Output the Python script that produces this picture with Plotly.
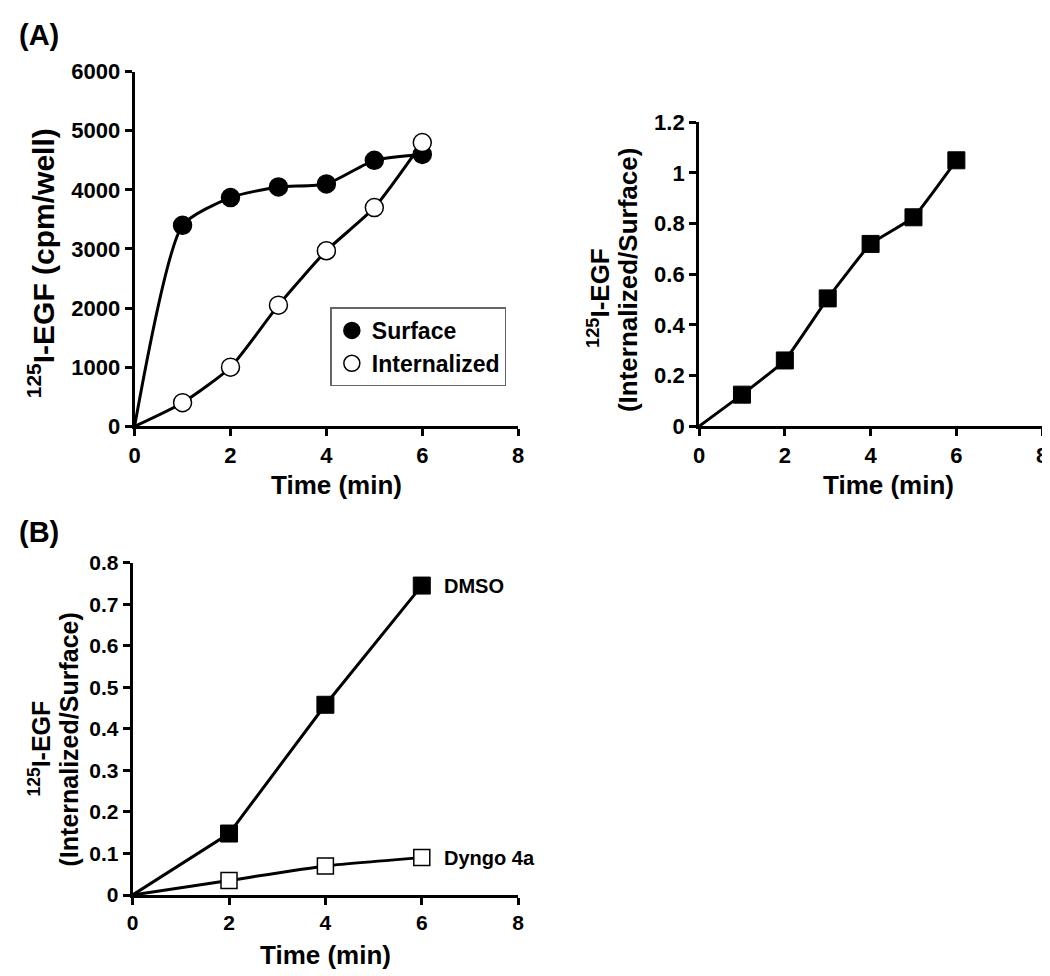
import plotly.graph_objects as go

# ---------------- data ----------------
time_a = [0, 1, 2, 3, 4, 5, 6]
surface = [0, 3400, 3870, 4050, 4100, 4500, 4600]
internalized = [0, 400, 1000, 2050, 2970, 3700, 4800]
ratio_a = [0, 0.125, 0.26, 0.505, 0.72, 0.825, 1.05]

time_b = [0, 2, 4, 6]
dmso = [0, 0.148, 0.458, 0.745]
dyngo = [0, 0.035, 0.07, 0.09]

x_ticks = [0, 2, 4, 6, 8]

FONT = "Liberation Sans, Arial, sans-serif"
BLACK = "#000000"

fig = go.Figure()

# Panel A left
fig.add_trace(go.Scatter(x=time_a, y=surface, mode="lines", line=dict(color=BLACK, width=3, shape="spline", smoothing=0.6),
                         showlegend=False, xaxis="x", yaxis="y", hoverinfo="skip"))
fig.add_trace(go.Scatter(x=time_a, y=internalized, mode="lines", line=dict(color=BLACK, width=3, shape="spline", smoothing=0.6),
                         showlegend=False, xaxis="x", yaxis="y", hoverinfo="skip"))
fig.add_trace(go.Scatter(x=time_a[1:], y=surface[1:], mode="markers", name="Surface",
                         marker=dict(symbol="circle", size=18, color=BLACK, line=dict(color=BLACK, width=1.5)),
                         xaxis="x", yaxis="y"))
fig.add_trace(go.Scatter(x=time_a[1:], y=internalized[1:], mode="markers", name="Internalized",
                         marker=dict(symbol="circle", size=18, color="white", line=dict(color=BLACK, width=1.5)),
                         xaxis="x", yaxis="y"))

# Panel A right
fig.add_trace(go.Scatter(x=time_a, y=ratio_a, mode="lines", line=dict(color=BLACK, width=3, shape="spline", smoothing=0.3),
                         showlegend=False, xaxis="x2", yaxis="y2", hoverinfo="skip"))
fig.add_trace(go.Scatter(x=time_a[1:], y=ratio_a[1:], mode="markers", showlegend=False,
                         marker=dict(symbol="square", size=17, color=BLACK, line=dict(color=BLACK, width=1)),
                         xaxis="x2", yaxis="y2"))

# Panel B
fig.add_trace(go.Scatter(x=time_b, y=dmso, mode="lines", line=dict(color=BLACK, width=3),
                         showlegend=False, xaxis="x3", yaxis="y3", hoverinfo="skip"))
fig.add_trace(go.Scatter(x=time_b, y=dyngo, mode="lines", line=dict(color=BLACK, width=3, shape="spline", smoothing=0.5),
                         showlegend=False, xaxis="x3", yaxis="y3", hoverinfo="skip"))
fig.add_trace(go.Scatter(x=time_b[1:], y=dmso[1:], mode="markers", showlegend=False,
                         marker=dict(symbol="square", size=17, color=BLACK, line=dict(color=BLACK, width=1)),
                         xaxis="x3", yaxis="y3"))
fig.add_trace(go.Scatter(x=time_b[1:], y=dyngo[1:], mode="markers", showlegend=False,
                         marker=dict(symbol="square", size=16, color="white", line=dict(color=BLACK, width=1.5)),
                         xaxis="x3", yaxis="y3"))

W, H = 1050, 976


def px_x(v):
    return v / W


def px_y(v):
    return 1 - v / H


def axis_style(size):
    return dict(showline=True, linecolor=BLACK, linewidth=3, ticks="outside", ticklen=7, tickwidth=3,
                tickcolor=BLACK, showgrid=False, zeroline=False,
                tickfont=dict(family=FONT, size=size, color=BLACK, weight="bold"))


fig.update_layout(
    width=W, height=H, margin=dict(l=0, r=0, t=0, b=0),
    paper_bgcolor="white", plot_bgcolor="white",
    font=dict(family=FONT, color=BLACK),
    xaxis=dict(domain=[px_x(122), px_x(510)], range=[0, 8], tickvals=x_ticks, anchor="y", **axis_style(22)),
    yaxis=dict(domain=[px_y(417), px_y(53)], range=[0, 6000], dtick=1000, anchor="x", **axis_style(22)),
    xaxis2=dict(domain=[px_x(693), px_x(1040)], range=[0, 8], tickvals=x_ticks, anchor="y2", **axis_style(22)),
    yaxis2=dict(domain=[px_y(417), px_y(105)], range=[0, 1.2], dtick=0.2, anchor="x2", **axis_style(22)),
    xaxis3=dict(domain=[px_x(120), px_x(510)], range=[0, 8], tickvals=x_ticks, anchor="y3", **axis_style(21)),
    yaxis3=dict(domain=[px_y(898), px_y(557)], range=[0, 0.8], dtick=0.1, anchor="x3", **axis_style(21)),
    legend=dict(x=px_x(320), y=px_y(295), xanchor="left", yanchor="top",
                bordercolor="#666666", borderwidth=1.5, bgcolor="white",
                font=dict(family=FONT, size=23, color=BLACK, weight="bold"),
                tracegroupgap=2),
    showlegend=True,
)

xt_font = dict(family=FONT, size=26, color=BLACK, weight="bold")
ann = [
    dict(text="(A)", x=px_x(3), y=px_y(15), xanchor="left", yanchor="middle", font=dict(family=FONT, size=29, color=BLACK, weight="bold")),
    dict(text="(B)", x=px_x(3), y=px_y(525), xanchor="left", yanchor="middle", font=dict(family=FONT, size=29, color=BLACK, weight="bold")),
    dict(text="Time (min)", x=px_x(326), y=px_y(477), xanchor="center", yanchor="middle", font=xt_font),
    dict(text="Time (min)", x=px_x(885), y=px_y(477), xanchor="center", yanchor="middle", font=xt_font),
    dict(text="Time (min)", x=px_x(315), y=px_y(960), xanchor="center", yanchor="middle", font=xt_font),
    dict(text="<sup>125</sup>I-EGF (cpm/well)", x=px_x(27), y=px_y(250), textangle=-90, xanchor="center", yanchor="middle",
         font=dict(family=FONT, size=30, color=BLACK, weight="bold")),
    dict(text="<sup>125</sup>I-EGF", x=px_x(592), y=px_y(285), textangle=-90, xanchor="center", yanchor="middle",
         font=dict(family=FONT, size=26, color=BLACK, weight="bold")),
    dict(text="(Internalized/Surface)", x=px_x(621), y=px_y(267), textangle=-90, xanchor="center", yanchor="middle",
         font=dict(family=FONT, size=26, color=BLACK, weight="bold")),
    dict(text="<sup>125</sup>I-EGF", x=px_x(26), y=px_y(748), textangle=-90, xanchor="center", yanchor="middle",
         font=dict(family=FONT, size=25, color=BLACK, weight="bold")),
    dict(text="(Internalized/Surface)", x=px_x(56), y=px_y(738), textangle=-90, xanchor="center", yanchor="middle",
         font=dict(family=FONT, size=25, color=BLACK, weight="bold")),
]
for a in ann:
    a.update(xref="paper", yref="paper", showarrow=False)
fig.update_layout(annotations=ann)

fig.add_annotation(text="DMSO", x=time_b[-1], y=dmso[-1], xref="x3", yref="y3", xanchor="left", yanchor="middle",
                   xshift=20, showarrow=False, font=dict(family=FONT, size=20, color=BLACK, weight="bold"))
fig.add_annotation(text="Dyngo 4a", x=time_b[-1], y=dyngo[-1], xref="x3", yref="y3", xanchor="left", yanchor="middle",
                   xshift=20, showarrow=False, font=dict(family=FONT, size=20, color=BLACK, weight="bold"))

fig.write_html("out.html")
